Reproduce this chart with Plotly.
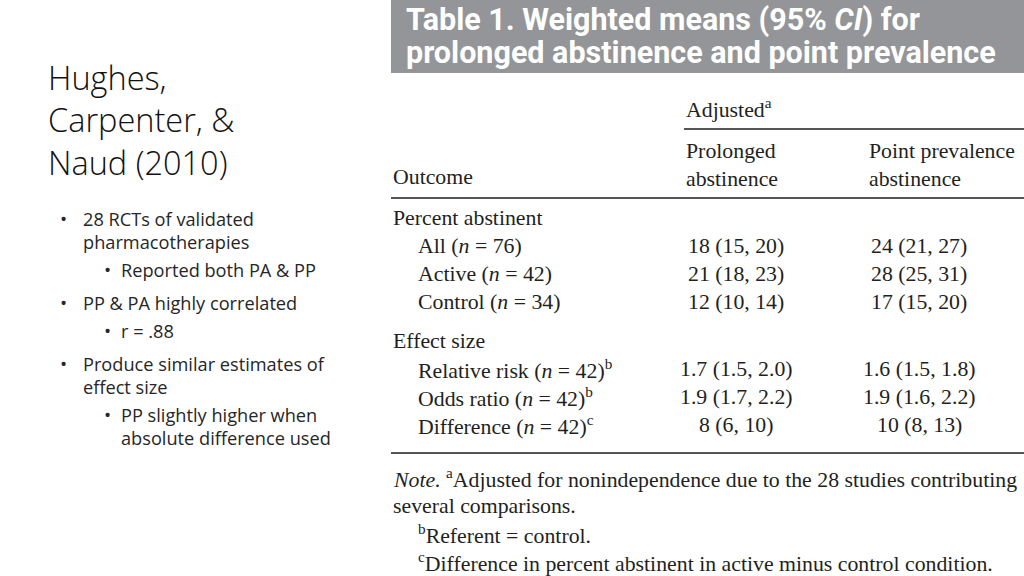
import plotly.graph_objects as go

# ---- slide text ----
title_lines = ["Hughes,", "Carpenter, &", "Naud (2010)"]
bullets = [
    (0, ["28 RCTs of validated", "pharmacotherapies"]),
    (1, ["Reported both PA & PP"]),
    (0, ["PP & PA highly correlated"]),
    (1, ["r = .88"]),
    (0, ["Produce similar estimates of", "effect size"]),
    (1, ["PP slightly higher when", "absolute difference used"]),
]

# ---- table data ----
table_title = ["Table 1. Weighted means (95% <i>CI</i>) for",
               "prolonged abstinence and point prevalence"]
col_headers = ["Prolonged<br>abstinence", "Point prevalence<br>abstinence"]
sections = ["Percent abstinent", "Effect size"]
row_labels = [
    ["All", "Active", "Control"],
    ["Relative risk", "Odds ratio", "Difference"],
]
row_n = [[76, 42, 34], [42, 42, 42]]
row_sup = [["", "", ""], ["b", "b", "c"]]
prolonged = [
    ["18 (15, 20)", "21 (18, 23)", "12 (10, 14)"],
    ["1.7 (1.5, 2.0)", "1.9 (1.7, 2.2)", "8 (6, 10)"],
]
point_prev = [
    ["24 (21, 27)", "28 (25, 31)", "17 (15, 20)"],
    ["1.6 (1.5, 1.8)", "1.9 (1.6, 2.2)", "10 (8, 13)"],
]
notes = [
    (0, "<i>Note.</i> <sup>a</sup>Adjusted for nonindependence due to the 28 studies contributing"),
    (0, "several comparisons."),
    (1, "<sup>b</sup>Referent = control."),
    (1, "<sup>c</sup>Difference in percent abstinent in active minus control condition."),
]

SANS = "'Open Sans', Calibri, Lato, sans-serif"
SERIF = "'Liberation Serif', 'Times New Roman', serif"
HEAD = "Roboto, 'Liberation Sans', sans-serif"
TXT = "#262626"
TAB = "#231f20"
TS = 21.8

fig = go.Figure()
ann = []
shapes = []

def add(x, y, text, size, font=SANS, color=TXT, xanchor="left", weight=None):
    f = dict(family=font, size=size, color=color)
    if weight:
        f["weight"] = weight
    ann.append(dict(x=x, y=y, xref="x", yref="y", text=text, showarrow=False,
                    xanchor=xanchor, yanchor="middle", align="left", font=f))

# title
add(46, 120, "<br>".join(title_lines), 32.5, color="#111111", weight=300)

# bullets
y = 219
first = True
for lvl, lines in bullets:
    bx = 58 if lvl == 0 else 102
    tx = 81 if lvl == 0 else 119
    if lvl == 0 and not first:
        y += 5
    first = False
    add(bx, y, "•", 19)
    for ln in lines:
        add(tx, y, ln, 18.2)
        y += 23
    y += 5

# header box
shapes.append(dict(type="rect", xref="x", yref="y", x0=391, x1=1024, y0=0, y1=73,
                   fillcolor="#939598", line=dict(width=0), layer="below"))
for i, t in enumerate(table_title):
    ann.append(dict(x=404, y=20 + i * 32, xref="x", yref="y", text="<b>" + t + "</b>",
                    showarrow=False, xanchor="left", yanchor="middle",
                    font=dict(family=HEAD, size=30.5, color="white")))

# table header
add(684, 108, "Adjusted<sup>a</sup>", TS, SERIF, TAB)
shapes.append(dict(type="line", xref="x", yref="y", x0=684, x1=1024, y0=129, y1=129,
                   line=dict(color="#555", width=2)))
for x0, h in zip([684, 867], col_headers):
    add(x0, 165, h, TS, SERIF, TAB)
add(391, 177, "Outcome", TS, SERIF, TAB)
shapes.append(dict(type="line", xref="x", yref="y", x0=391, x1=1024, y0=198, y1=198,
                   line=dict(color="#555", width=2)))

# table body
ys = [[246, 274, 302], [369, 397, 425]]
sec_y = [218, 341]
for s, sec in enumerate(sections):
    add(391, sec_y[s], sec, TS, SERIF, TAB)
    for r, lab in enumerate(row_labels[s]):
        sup = f"<sup>{row_sup[s][r]}</sup>" if row_sup[s][r] else ""
        add(416, ys[s][r], f"{lab} (<i>n</i> = {row_n[s][r]}){sup}", TS, SERIF, TAB)
        add(736, ys[s][r], prolonged[s][r], TS, SERIF, TAB, xanchor="center")
        add(919, ys[s][r], point_prev[s][r], TS, SERIF, TAB, xanchor="center")
shapes.append(dict(type="line", xref="x", yref="y", x0=391, x1=1024, y0=453, y1=453,
                   line=dict(color="#555", width=2)))

# notes
for i, (lvl, t) in enumerate(notes):
    add(391 if lvl == 0 else 416, 478 + i * 28, t, TS, SERIF, TAB)

fig.update_layout(
    width=1024, height=576, margin=dict(l=0, r=0, t=0, b=0),
    paper_bgcolor="white", plot_bgcolor="white",
    xaxis=dict(range=[0, 1024], visible=False, fixedrange=True),
    yaxis=dict(range=[576, 0], visible=False, fixedrange=True),
    annotations=ann, shapes=shapes, showlegend=False,
)
fig.write_html("out.html", config={"displayModeBar": False},
               post_script="document.body.style.margin='0';document.body.style.overflow='hidden';")
